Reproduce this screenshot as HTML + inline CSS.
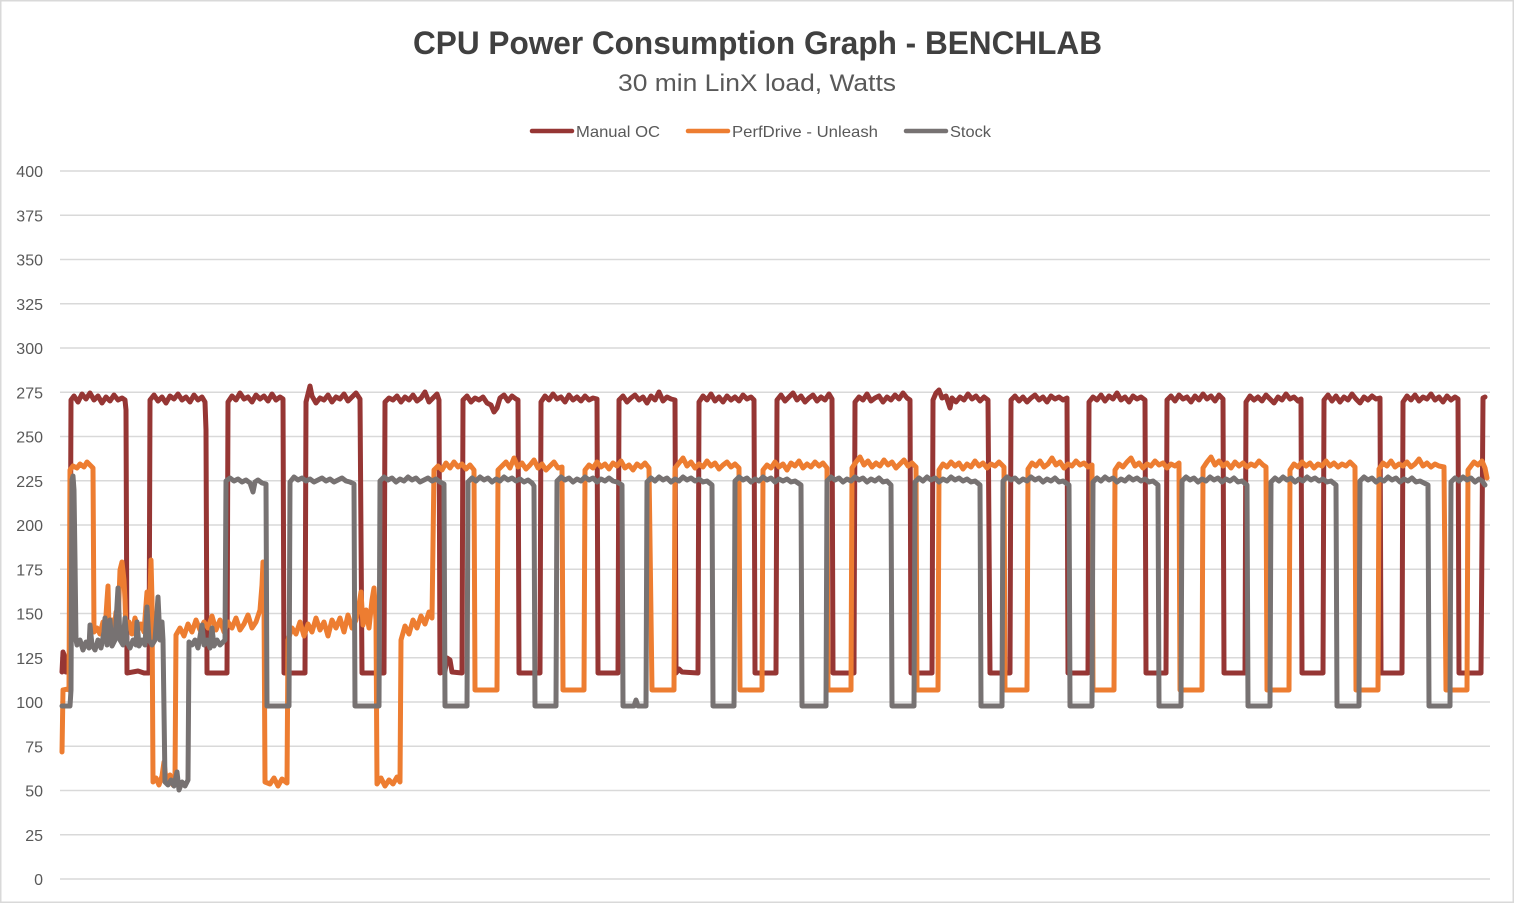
<!DOCTYPE html>
<html>
<head>
<meta charset="utf-8">
<style>
html,body{margin:0;padding:0;background:#fff;}
svg{display:block;}
text{font-family:"Liberation Sans",Arial,sans-serif;}
</style>
</head>
<body>
<svg width="1515" height="904" viewBox="0 0 1515 904" xmlns="http://www.w3.org/2000/svg">
<rect x="0" y="0" width="1515" height="904" fill="#fff"/>
<rect x="0.75" y="0.75" width="1512.5" height="901.5" fill="none" stroke="#d9d9d9" stroke-width="1.5"/>

<!-- title -->
<text x="757.5" y="54" text-anchor="middle" font-size="32" font-weight="bold" fill="#404040" textLength="689" lengthAdjust="spacingAndGlyphs">CPU Power Consumption Graph - BENCHLAB</text>
<text x="757" y="91" text-anchor="middle" font-size="24" fill="#595959" textLength="278" lengthAdjust="spacingAndGlyphs">30 min LinX load, Watts</text>

<!-- legend -->
<g stroke-width="4.5" stroke-linecap="round">
<line x1="532" y1="131" x2="572" y2="131" stroke="#963634"/>
<line x1="688" y1="131" x2="728" y2="131" stroke="#ED7D31"/>
<line x1="906" y1="131" x2="946" y2="131" stroke="#777272"/>
</g>
<g font-size="16" fill="#595959">
<text x="576" y="137" textLength="84" lengthAdjust="spacingAndGlyphs">Manual OC</text>
<text x="732" y="137" textLength="146" lengthAdjust="spacingAndGlyphs">PerfDrive - Unleash</text>
<text x="950" y="137" textLength="41" lengthAdjust="spacingAndGlyphs">Stock</text>
</g>

<!-- gridlines -->
<g stroke="#d9d9d9" stroke-width="1.5">
<line x1="60" x2="1490" y1="879" y2="879"/>
<line x1="60" x2="1490" y1="834.75" y2="834.75"/>
<line x1="60" x2="1490" y1="790.5" y2="790.5"/>
<line x1="60" x2="1490" y1="746.25" y2="746.25"/>
<line x1="60" x2="1490" y1="702" y2="702"/>
<line x1="60" x2="1490" y1="657.75" y2="657.75"/>
<line x1="60" x2="1490" y1="613.5" y2="613.5"/>
<line x1="60" x2="1490" y1="569.25" y2="569.25"/>
<line x1="60" x2="1490" y1="525" y2="525"/>
<line x1="60" x2="1490" y1="480.75" y2="480.75"/>
<line x1="60" x2="1490" y1="436.5" y2="436.5"/>
<line x1="60" x2="1490" y1="392.25" y2="392.25"/>
<line x1="60" x2="1490" y1="348" y2="348"/>
<line x1="60" x2="1490" y1="303.75" y2="303.75"/>
<line x1="60" x2="1490" y1="259.5" y2="259.5"/>
<line x1="60" x2="1490" y1="215.25" y2="215.25"/>
<line x1="60" x2="1490" y1="171" y2="171"/>
</g>

<!-- y labels -->
<g font-size="16" fill="#595959" text-anchor="end">
<text x="43" y="885">0</text>
<text x="43" y="840.75">25</text>
<text x="43" y="796.5">50</text>
<text x="43" y="752.25">75</text>
<text x="43" y="708">100</text>
<text x="43" y="663.75">125</text>
<text x="43" y="619.5">150</text>
<text x="43" y="575.25">175</text>
<text x="43" y="531">200</text>
<text x="43" y="486.75">225</text>
<text x="43" y="442.5">250</text>
<text x="43" y="398.25">275</text>
<text x="43" y="354">300</text>
<text x="43" y="309.75">325</text>
<text x="43" y="265.5">350</text>
<text x="43" y="221.25">375</text>
<text x="43" y="177">400</text>
</g>

<g fill="none" stroke-width="5" stroke-linejoin="round" stroke-linecap="round">
<!-- Manual OC -->
<path stroke="#963634" d="M62,672 L63,652 L65,657 L66,672 L69,672 L70,655 L71,400
L74,396 L78,402 L82,394 L86,399 L90,393 L94,400 L98,396 L102,403 L106,397 L110,401 L114,395 L118,400 L122,398 L125,400 L126,410 L127,673
L138,671 L144,673 L149,673
L150,400 L154,395 L158,401 L162,397 L166,403 L170,396 L174,399 L178,394 L182,400 L186,397 L190,402 L194,395 L198,400 L202,397 L205,402 L206,430 L207,673 L227,673
L228,402 L232,396 L236,400 L240,393 L244,399 L248,397 L252,402 L256,395 L260,399 L264,396 L268,401 L272,394 L276,400 L280,397 L283,399 L284,673 L305,673
L306,402 L310,386 L312,396 L316,403 L320,398 L324,400 L328,395 L332,402 L336,397 L340,399 L344,394 L348,401 L352,397 L356,393 L360,399 L362,673 L384,673
L385,402 L389,398 L393,400 L397,396 L401,402 L405,397 L409,400 L413,395 L417,401 L421,398 L425,392 L429,402 L433,398 L437,394 L439,400 L440,673 L445,671 L447,658 L450,660 L452,672 L462,673
L463,400 L467,396 L471,402 L475,398 L479,400 L483,397 L487,403 L491,405 L494,412 L497,408 L500,398 L504,395 L508,401 L512,396 L516,399 L518,400 L519,673 L540,673
L541,402 L545,396 L549,400 L553,394 L557,399 L561,397 L565,402 L569,395 L573,400 L577,397 L581,401 L585,396 L589,400 L593,398 L597,399 L598,673 L618,673
L619,400 L623,396 L627,402 L631,398 L635,395 L639,400 L643,397 L647,403 L651,396 L655,400 L659,392 L663,401 L667,397 L671,399 L675,400 L676,673 L679,669 L682,672 L698,673
L699,402 L703,396 L707,400 L711,394 L715,401 L719,397 L723,402 L727,396 L731,400 L735,397 L739,401 L743,395 L747,399 L751,397 L754,400 L755,673 L776,673
L777,400 L781,395 L785,401 L789,397 L793,393 L797,400 L801,396 L805,402 L809,398 L813,395 L817,401 L821,397 L825,400 L829,394 L832,399 L833,673 L854,673
L855,402 L859,397 L863,400 L867,394 L871,401 L875,398 L879,396 L883,402 L887,397 L891,400 L895,395 L899,399 L903,393 L907,398 L910,400 L911,673 L932,673
L933,400 L936,393 L939,390 L942,398 L946,396 L950,408 L952,398 L956,402 L960,397 L964,400 L968,394 L972,399 L976,396 L980,401 L984,397 L988,400 L990,673 L1010,673
L1011,400 L1015,396 L1019,401 L1023,397 L1027,402 L1031,398 L1035,395 L1039,400 L1043,397 L1047,402 L1051,396 L1055,399 L1059,397 L1063,400 L1067,398 L1068,673 L1088,673
L1089,402 L1093,397 L1097,400 L1101,395 L1105,401 L1109,396 L1113,399 L1117,393 L1121,400 L1125,397 L1129,402 L1133,396 L1137,399 L1141,397 L1145,400 L1146,673 L1166,673
L1167,400 L1171,396 L1175,401 L1179,395 L1183,399 L1187,397 L1191,402 L1195,396 L1199,400 L1203,394 L1207,399 L1211,396 L1215,401 L1219,395 L1223,399 L1224,673 L1245,673
L1246,402 L1250,396 L1254,400 L1258,397 L1262,401 L1266,395 L1270,399 L1274,403 L1278,397 L1282,400 L1286,394 L1290,399 L1294,397 L1298,401 L1301,399 L1302,673 L1323,673
L1324,400 L1328,395 L1332,401 L1336,396 L1340,402 L1344,397 L1348,400 L1352,394 L1356,399 L1360,403 L1364,397 L1368,400 L1372,396 L1376,399 L1380,398 L1381,673 L1402,673
L1403,402 L1407,396 L1411,400 L1415,395 L1419,401 L1423,397 L1427,399 L1431,394 L1435,400 L1439,397 L1443,402 L1447,396 L1451,400 L1455,397 L1458,399 L1459,673 L1481,673
L1483,398 L1485,397"/>

<!-- PerfDrive - Unleash -->
<path stroke="#ED7D31" d="M62,752 L63,690 L68,689 L69,690 L70,470 L73,466 L77,468 L80,464 L84,467 L87,462 L90,465 L93,468 L94,632
L97,628 L100,634 L103,622 L105,631 L107,600 L108,586 L109,628 L112,620 L114,632 L116,612 L118,626 L120,570 L122,562 L124,580 L125,600 L126,630 L129,622 L132,634 L135,618 L138,630 L141,624 L144,632 L146,605 L147,592 L149,626 L151,560 L152,600 L153,782
L156,778 L159,785 L162,776 L164,762 L166,780 L170,775 L173,785 L175,780 L176,635
L180,628 L184,636 L188,624 L192,632 L196,620 L200,630 L204,622 L208,628 L212,616 L216,630 L220,620 L224,632 L228,622 L232,628 L236,618 L240,630 L244,624 L248,615 L252,628 L256,622 L260,610 L262,585 L263,562 L264,600 L265,782
L270,784 L274,778 L278,786 L282,779 L287,783 L288,640
L292,628 L296,634 L300,622 L304,636 L308,624 L312,632 L316,618 L320,630 L324,622 L328,636 L332,620 L336,628 L340,618 L344,632 L348,615 L352,628 L356,620 L359,605 L361,592 L363,625 L366,610 L369,628 L372,600 L374,588 L376,620 L377,784
L381,778 L385,786 L389,780 L393,784 L397,777 L400,782 L401,640 L405,626 L409,634 L413,620 L417,628 L421,616 L425,624 L429,612 L432,618 L434,470
L438,466 L442,470 L446,463 L450,468 L454,462 L458,467 L462,464 L466,469 L470,465 L474,470 L475,690 L497,690
L498,470 L502,466 L506,462 L510,468 L514,458 L518,467 L522,463 L526,469 L530,465 L534,460 L538,468 L542,464 L546,470 L550,466 L554,462 L558,468 L562,467 L563,690 L584,690
L585,470 L589,465 L593,468 L597,462 L601,467 L605,464 L609,469 L613,463 L617,466 L621,461 L625,468 L629,465 L633,470 L637,464 L641,467 L645,463 L649,468 L652,690 L674,690
L675,468 L679,463 L683,458 L687,466 L691,462 L695,468 L699,464 L703,467 L707,461 L711,466 L715,463 L719,469 L723,465 L727,462 L731,467 L735,464 L739,468 L740,690 L762,690
L763,470 L767,465 L771,468 L775,462 L779,467 L783,464 L787,470 L791,463 L795,466 L799,461 L803,468 L807,464 L811,467 L815,462 L819,466 L823,463 L827,468 L828,690 L851,690
L852,468 L856,462 L860,457 L864,465 L868,461 L872,467 L876,463 L880,466 L884,460 L888,465 L892,462 L896,468 L900,464 L904,460 L908,466 L912,463 L916,467 L917,690 L938,690
L939,470 L943,464 L947,467 L951,462 L955,466 L959,463 L963,469 L967,464 L971,467 L975,461 L979,466 L983,463 L987,468 L991,464 L995,466 L999,462 L1004,467 L1005,690 L1027,690
L1028,469 L1032,463 L1036,466 L1040,461 L1044,467 L1048,464 L1052,458 L1056,465 L1060,462 L1064,468 L1068,464 L1072,466 L1076,461 L1080,465 L1084,463 L1088,467 L1092,465 L1093,690 L1114,690
L1115,470 L1119,464 L1123,467 L1127,462 L1131,458 L1135,466 L1139,463 L1143,468 L1147,464 L1151,466 L1155,461 L1159,465 L1163,463 L1167,468 L1171,464 L1175,466 L1179,463 L1180,690 L1202,690
L1203,468 L1207,462 L1211,457 L1215,465 L1219,461 L1223,466 L1227,463 L1231,468 L1235,462 L1239,466 L1243,463 L1247,467 L1251,464 L1255,466 L1259,461 L1263,465 L1266,467 L1267,690 L1289,690
L1290,470 L1294,464 L1298,467 L1302,462 L1306,466 L1310,463 L1314,468 L1318,464 L1322,466 L1326,461 L1330,466 L1334,463 L1338,467 L1342,464 L1346,466 L1350,462 L1355,467 L1356,690 L1378,690
L1379,469 L1383,463 L1387,466 L1391,461 L1395,467 L1399,464 L1403,466 L1407,462 L1411,467 L1415,464 L1419,459 L1423,466 L1427,463 L1431,467 L1435,464 L1439,466 L1444,467 L1446,690 L1467,690
L1468,470 L1471,466 L1474,462 L1478,465 L1482,461 L1485,468 L1487,478"/>

<!-- Stock -->
<path stroke="#777272" d="M62,706 L70,706 L71,690 L72,480 L73,476 L74,490 L75,560 L76,640
L77,645 L80,640 L83,650 L86,642 L89,648 L90,625 L92,645 L95,650 L98,640 L101,648 L104,632 L105,618 L107,645 L110,620 L112,646 L115,640 L117,605 L118,588 L120,640 L123,645 L125,618 L127,642 L130,648 L133,640 L136,645 L137,622 L139,646 L142,640 L145,645 L147,607 L149,640 L152,645 L155,640 L157,612 L158,597 L160,640 L162,622 L163,640 L165,782
L168,785 L171,780 L174,786 L177,772 L179,790 L182,782 L185,786 L188,780 L189,642
L192,645 L195,640 L198,648 L202,625 L204,645 L207,640 L210,648 L212,628 L214,646 L217,640 L220,645 L223,642 L225,640 L226,481
L230,478 L234,481 L238,479 L242,482 L246,480 L250,483 L253,492 L255,482 L258,480 L262,483 L266,484 L267,706 L289,706
L290,482 L294,477 L298,480 L302,478 L306,481 L310,479 L314,482 L318,480 L322,478 L326,481 L330,479 L334,482 L338,480 L342,478 L346,481 L350,482 L354,484 L355,706 L379,706
L380,481 L384,477 L388,480 L392,478 L396,482 L400,479 L404,481 L408,477 L412,480 L416,478 L420,482 L424,480 L428,478 L432,481 L436,479 L440,482 L444,484 L445,706 L467,706
L468,482 L472,478 L476,481 L480,477 L484,480 L488,478 L492,482 L496,479 L500,481 L504,477 L508,480 L512,478 L516,481 L520,479 L524,482 L528,480 L532,483 L534,486 L535,706 L556,706
L557,481 L561,477 L565,480 L569,478 L573,482 L577,479 L581,481 L585,477 L589,480 L593,478 L597,482 L601,479 L605,481 L609,478 L613,481 L617,482 L622,485 L623,706 L634,706 L636,700 L638,706 L646,706
L647,482 L651,478 L655,481 L659,477 L663,480 L667,478 L671,482 L675,479 L679,481 L683,477 L687,480 L691,478 L695,481 L699,479 L703,482 L707,481 L712,485 L713,706 L734,706
L735,481 L739,477 L743,480 L747,478 L751,482 L755,479 L759,481 L763,477 L767,480 L771,478 L775,482 L779,479 L783,481 L787,479 L791,482 L795,481 L801,485 L802,706 L826,706
L827,481 L831,477 L835,480 L839,478 L843,482 L847,479 L851,481 L855,477 L859,480 L863,478 L867,482 L871,479 L875,481 L879,478 L883,482 L887,481 L891,485 L892,706 L914,706
L915,482 L919,478 L923,481 L927,477 L931,480 L935,478 L939,482 L943,479 L947,481 L951,477 L955,480 L959,478 L963,481 L967,479 L971,482 L975,481 L980,485 L981,706 L1002,706
L1003,481 L1007,477 L1011,480 L1015,478 L1019,482 L1023,479 L1027,481 L1031,477 L1035,480 L1039,478 L1043,482 L1047,479 L1051,481 L1055,478 L1059,482 L1063,481 L1069,485 L1070,706 L1092,706
L1093,482 L1097,478 L1101,481 L1105,477 L1109,480 L1113,478 L1117,482 L1121,479 L1125,481 L1129,477 L1133,480 L1137,478 L1141,481 L1145,479 L1149,482 L1153,481 L1158,485 L1159,706 L1181,706
L1182,481 L1186,477 L1190,480 L1194,478 L1198,482 L1202,479 L1206,481 L1210,477 L1214,480 L1218,478 L1222,482 L1226,479 L1230,481 L1234,478 L1238,482 L1242,481 L1247,485 L1248,706 L1270,706
L1271,482 L1275,478 L1279,481 L1283,477 L1287,480 L1291,478 L1295,482 L1299,479 L1303,481 L1307,477 L1311,480 L1315,478 L1319,481 L1323,479 L1327,482 L1331,481 L1336,485 L1337,706 L1359,706
L1360,481 L1364,477 L1368,480 L1372,478 L1376,482 L1380,479 L1384,481 L1388,477 L1392,480 L1396,478 L1400,482 L1404,479 L1408,481 L1412,478 L1416,482 L1420,481 L1428,485 L1429,706 L1450,706
L1451,482 L1455,478 L1459,481 L1463,477 L1467,480 L1471,478 L1475,482 L1479,479 L1482,481 L1485,485"/>
</g>
</svg>
</body>
</html>
